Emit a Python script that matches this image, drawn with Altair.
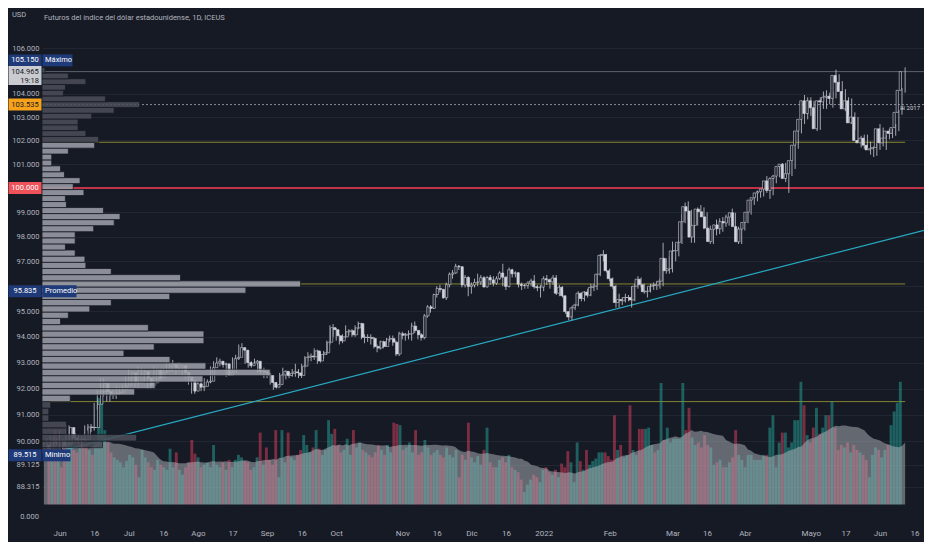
import json
import altair as alt
import numpy as np
import pandas as pd

BG = "#161a25"
TXT = "#b2b5be"
FONT = "Roboto, DejaVu Sans, sans-serif"
W, H = 882, 514
LEFT, BOTTOM = 34, 20

# ---------------- data (daily bars, ICE DX futures, from 2021-05-25) ----------------
first_open = 89.85
close = [
    89.66, 90.03, 89.98, 90.03,
    90.02, 89.83, 89.92, 90.52, 90.12,
    90.04, 90.08, 90.06, 90.05, 90.54,
    90.52, 90.52, 91.40, 91.88, 92.20,
    91.88, 91.75, 91.80, 91.82, 91.84,
    91.95, 92.10, 92.42, 92.60, 92.22,
    92.22, 92.55, 92.65, 92.40, 92.12,
    92.22, 92.72, 92.40, 92.62, 92.68,
    92.85, 92.92, 92.78, 92.78, 92.88,
    92.62, 92.45, 92.30, 91.90, 92.18,
    92.05, 92.08, 92.25, 92.28, 92.80,
    92.98, 93.05, 92.92, 92.95, 92.50,
    92.62, 93.15, 93.20, 93.58, 93.48,
    93.00, 92.88, 92.98, 93.05, 92.65,
    92.66, 92.60, 92.50, 92.23, 92.05,
    92.15, 92.52, 92.66, 92.50, 92.58,
    92.64, 92.60, 92.50, 92.86, 93.20,
    93.25, 93.22, 93.45, 93.06, 93.31,
    93.38, 93.79, 94.36, 94.28, 94.04,
    93.84, 94.00, 94.20, 94.24, 94.08,
    94.35, 94.52, 93.98, 93.98, 93.97,
    93.94, 93.62, 93.56, 93.81, 93.62,
    93.91, 93.93, 93.79, 93.33, 94.12,
    94.06, 94.10, 94.12, 94.42, 94.25,
    94.08, 93.97, 94.82, 95.18, 95.12,
    95.67, 95.91, 95.87, 95.54, 96.06,
    96.48, 96.53, 96.80, 96.78, 96.05,
    96.35, 95.99, 96.05, 96.15, 96.17,
    96.34, 95.97, 96.35, 96.25, 96.12,
    96.30, 96.53, 96.36, 95.99, 96.66,
    96.50, 96.54, 96.08, 96.03, 96.03,
    96.12, 96.21, 95.98, 95.94, 95.96,
    96.30, 96.26, 96.17, 96.33, 95.72,
    95.96, 95.62, 94.99, 94.78, 95.14,
    95.25, 95.72, 95.51, 95.77, 95.64,
    95.95, 96.00, 96.48, 97.24, 97.27,
    96.62, 96.30, 96.00, 95.35, 95.47,
    95.42, 95.55, 95.55, 95.45, 96.00,
    96.28, 96.06, 95.78, 95.80, 96.00,
    96.05, 96.04, 96.20, 97.12, 96.62,
    96.70, 97.42, 97.43, 97.77, 98.61,
    99.23, 99.05, 97.98, 98.46, 99.13,
    99.02, 98.81, 98.35, 97.80, 98.30,
    98.48, 98.32, 98.62, 98.56, 98.80,
    98.98, 98.41, 97.79, 98.31, 98.58,
    99.00, 99.50, 99.60, 99.80, 99.85,
    99.96, 100.30, 99.90, 100.40, 100.50,
    100.90, 101.00, 100.40, 100.60, 101.15,
    101.80, 102.40, 102.90, 103.70, 103.15,
    103.70, 103.40, 102.50, 103.70, 103.65,
    103.85, 103.90, 103.80, 104.80, 104.50,
    104.10, 103.35, 103.70, 102.75, 103.00,
    102.00, 101.90, 102.10, 101.80, 101.60,
    101.65, 101.70, 102.50, 101.90, 102.10,
    102.40, 102.30, 102.55, 103.20, 104.15,
    104.965,
]
high = [
    90.00, 90.10, 90.20, 90.15,
    90.10, 90.40, 90.08, 90.62, 90.60,
    90.20, 90.30, 90.25, 90.20, 90.60,
    90.65, 90.65, 91.45, 91.95, 92.40,
    92.40, 92.05, 91.95, 91.95, 92.10,
    92.05, 92.15, 92.50, 92.75, 92.65,
    92.30, 92.85, 92.80, 92.70, 92.45,
    92.40, 92.85, 92.75, 92.70, 92.80,
    93.00, 93.20, 93.10, 92.95, 93.00,
    92.90, 92.75, 92.50, 92.35, 92.25,
    92.25, 92.30, 92.40, 92.35, 92.85,
    93.05, 93.20, 93.15, 93.05, 93.00,
    92.70, 93.20, 93.30, 93.70, 93.75,
    93.50, 93.05, 93.05, 93.15, 93.10,
    92.75, 92.80, 92.65, 92.55, 92.25,
    92.25, 92.60, 92.80, 92.70, 92.65,
    92.75, 92.95, 92.75, 92.95, 93.25,
    93.40, 93.35, 93.55, 93.50, 93.40,
    93.45, 93.85, 94.45, 94.50, 94.35,
    94.10, 94.10, 94.45, 94.30, 94.30,
    94.45, 94.60, 94.55, 94.10, 94.10,
    94.10, 94.00, 93.70, 93.85, 93.85,
    93.95, 94.05, 94.05, 93.85, 94.20,
    94.20, 94.15, 94.25, 94.55, 94.60,
    94.25, 94.15, 94.90, 95.25, 95.25,
    95.70, 96.00, 96.05, 95.90, 96.15,
    96.55, 96.65, 96.90, 96.85, 96.80,
    96.45, 96.40, 96.15, 96.30, 96.50,
    96.45, 96.40, 96.40, 96.45, 96.40,
    96.40, 96.60, 96.90, 96.40, 96.75,
    96.70, 96.60, 96.55, 96.15, 96.10,
    96.20, 96.30, 96.45, 96.05, 96.05,
    96.40, 96.45, 96.30, 96.45, 96.45,
    96.05, 96.00, 95.60, 95.00, 95.20,
    95.30, 95.80, 95.75, 95.80, 95.90,
    96.10, 96.10, 96.50, 97.30, 97.45,
    97.30, 96.70, 96.35, 96.05, 95.70,
    95.55, 95.70, 95.65, 96.00, 96.10,
    96.40, 96.35, 96.10, 95.95, 96.10,
    96.15, 96.20, 96.30, 97.75, 97.10,
    97.20, 97.80, 97.70, 97.85, 98.90,
    99.40, 99.45, 99.10, 98.60, 99.20,
    99.30, 99.20, 99.00, 98.45, 98.40,
    98.70, 98.75, 98.80, 98.90, 98.95,
    99.15, 98.95, 98.40, 98.40, 98.70,
    99.10, 99.55, 99.75, 99.90, 99.95,
    100.15, 100.50, 100.45, 100.55, 100.60,
    101.00, 101.05, 101.05, 100.70, 101.20,
    101.90, 102.45, 103.10, 103.95, 103.85,
    103.85, 103.70, 103.55, 103.85, 104.10,
    104.15, 104.05, 104.10, 105.05, 104.85,
    104.55, 104.20, 103.85, 103.80, 103.20,
    103.00, 102.20, 102.25, 102.25, 101.95,
    101.75, 101.85, 102.70, 102.55, 102.25,
    102.50, 102.50, 102.70, 103.30, 104.25,
    105.15,
]
low = [
    89.55, 89.515, 89.80, 89.85,
    89.85, 89.66, 89.70, 89.88, 90.00,
    89.90, 89.95, 89.90, 89.75, 90.00,
    90.40, 90.35, 90.40, 91.20, 91.70,
    91.70, 91.50, 91.50, 91.60, 91.60,
    91.75, 91.85, 92.00, 92.35, 92.10,
    92.05, 92.05, 92.40, 92.25, 92.00,
    92.00, 92.15, 92.25, 92.30, 92.45,
    92.60, 92.70, 92.65, 92.55, 92.65,
    92.50, 92.35, 92.15, 91.80, 91.80,
    91.95, 91.90, 91.90, 92.10, 92.20,
    92.75, 92.85, 92.85, 92.80, 92.45,
    92.50, 92.55, 93.00, 93.10, 93.40,
    92.95, 92.80, 92.80, 92.90, 92.60,
    92.55, 92.40, 92.40, 92.15, 91.95,
    92.00, 92.05, 92.45, 92.35, 92.40,
    92.45, 92.45, 92.40, 92.40, 92.80,
    93.05, 93.05, 93.10, 92.95, 93.00,
    93.15, 93.30, 93.70, 94.00, 93.85,
    93.70, 93.75, 93.95, 94.05, 94.00,
    94.00, 94.30, 93.90, 93.75, 93.80,
    93.70, 93.55, 93.40, 93.50, 93.55,
    93.65, 93.80, 93.65, 93.25, 93.25,
    93.90, 93.85, 93.90, 93.85, 94.15,
    93.90, 93.85, 93.90, 94.75, 94.95,
    95.10, 95.55, 95.75, 95.50, 95.45,
    95.95, 96.30, 96.50, 96.65, 95.95,
    95.95, 95.60, 95.70, 95.95, 96.00,
    96.05, 95.95, 95.95, 96.05, 96.00,
    96.05, 96.25, 96.00, 95.85, 95.95,
    96.35, 96.35, 95.95, 95.85, 95.90,
    95.90, 96.00, 95.90, 95.80, 95.55,
    95.80, 96.05, 95.90, 96.05, 95.65,
    95.60, 95.55, 94.90, 94.65, 94.65,
    95.05, 95.20, 95.40, 95.40, 95.55,
    95.60, 95.80, 95.85, 96.40, 97.00,
    96.55, 96.20, 95.90, 95.15, 95.15,
    95.25, 95.35, 95.40, 95.15, 95.40,
    95.90, 95.95, 95.70, 95.55, 95.75,
    95.85, 95.85, 95.90, 96.00, 96.50,
    96.50, 96.55, 97.00, 97.20, 97.70,
    98.55, 98.70, 97.75, 97.75, 98.45,
    98.80, 98.30, 98.10, 97.70, 97.70,
    98.05, 98.10, 98.20, 98.40, 98.45,
    98.65, 97.80, 97.70, 97.70, 98.25,
    98.55, 98.90, 99.30, 99.45, 99.60,
    99.65, 99.80, 99.55, 99.70, 100.20,
    100.45, 100.65, 100.25, 99.80, 100.50,
    100.80, 101.65, 102.30, 102.70, 102.90,
    103.05, 103.15, 102.40, 102.45, 103.35,
    103.35, 103.55, 103.40, 103.80, 104.40,
    104.00, 103.25, 103.10, 102.70, 102.45,
    101.95, 101.70, 101.65, 101.70, 101.40,
    101.30, 101.35, 101.60, 101.75, 101.60,
    102.05, 102.10, 102.20, 102.40, 103.10,
    104.05,
]
volume = [
    45, 40, 60, 38,
    30, 48, 52, 55, 44,
    42, 46, 50, 47, 44,
    40, 52, 86, 84, 60,
    50, 42, 38, 36, 34,
    30, 35, 40, 38, 32,
    22, 44, 38, 34, 30,
    28, 36, 32, 30, 28,
    45, 30, 42, 28, 24,
    30, 34, 52, 41, 38,
    30, 32, 34, 30, 48,
    32, 30, 34, 28, 36,
    30, 36, 40, 38, 35,
    34, 28, 30, 38, 58,
    32, 46, 36, 32, 60,
    22, 60, 34, 58, 38,
    36, 40, 44, 56, 48,
    42, 46, 60, 45, 40,
    44, 68, 57, 61, 48,
    42, 44, 53, 40, 60,
    46, 50, 44, 42, 40,
    38, 42, 48, 44, 40,
    48, 42, 66, 65, 64,
    44, 46, 50, 42, 60,
    40, 42, 52, 46, 40,
    42, 44, 40, 38, 46,
    40, 38, 44, 22, 40,
    36, 66, 38, 34, 39,
    32, 44, 62, 34, 30,
    30, 36, 38, 34, 40,
    30, 28, 26, 20, 10,
    16, 20, 24, 22, 18,
    28, 30, 26, 24, 28,
    22, 33, 30, 43, 34,
    18, 50, 35, 28, 44,
    32, 35, 37, 42, 42,
    42, 39, 36, 72, 44,
    48, 38, 40, 80, 44,
    40, 61, 61, 61, 62,
    48, 42, 44, 98, 52,
    62, 50, 53, 53, 53,
    98, 60, 78, 54, 48,
    50, 46, 56, 48, 46,
    32, 34, 36, 30, 30,
    34, 38, 60, 40, 36,
    30, 40, 40, 36, 36,
    36, 40, 40, 62, 72,
    30, 50, 58, 58, 46,
    50, 68, 68, 99, 80,
    56, 50, 62, 78, 57,
    62, 72, 72, 83, 62,
    44, 48, 46, 50, 42,
    48, 44, 42, 40, 36,
    22, 40, 46, 44, 38,
    44, 48, 64, 75, 82,
    99,
]

# visible-range volume profile: 63 rows between the low and the high (bottom -> top)
profile_low, profile_high, profile_rows = 89.515, 105.15, 63
profile_vol = [
    20, 62, 97, 25, 25, 7, 7, 9, 29, 95,
    116, 165, 234, 168, 131, 84, 115, 166, 166, 109,
    19, 27, 49, 71, 131, 209, 265, 142, 71, 45,
    44, 34, 24, 34, 34, 53, 74, 80, 63, 25,
    24, 43, 32, 39, 23, 19, 10, 10, 27, 54,
    58, 45, 37, 37, 51, 74, 100, 65, 22, 24,
    45, 27, 3,
]
value_area_rows = (8, 49)

tick_dates = ["2021-06-01", "2021-06-16", "2021-07-01", "2021-07-16", "2021-08-02", "2021-08-17",
              "2021-09-01", "2021-09-16", "2021-10-01", "2021-11-01", "2021-11-16", "2021-12-01",
              "2021-12-16", "2022-01-03", "2022-02-01", "2022-03-01", "2022-03-16", "2022-04-01",
              "2022-05-02", "2022-05-17", "2022-06-01", "2022-06-16"]
tick_labels = ["Jun", "16", "Jul", "16", "Ago", "17", "Sep", "16", "Oct", "Nov", "16", "Dic",
               "16", "2022", "Feb", "Mar", "16", "Abr", "Mayo", "17", "Jun", "16"]
price_ticks = [106, 105, 104, 103, 102, 101, 100, 99, 98, 97, 96, 95, 94, 93, 92, 91, 90, 89.125, 88.315]
hidden_ticks = [105, 100, 96]

# horizontal levels
level_price = [104.965, 103.535, 101.925, 100.0, 96.09, 91.50]
level_kind = ["last", "prev", "va", "round", "va", "va"]

# trend line anchors (bar index, price)
trend_i = [6.5, 280.0]
trend_p = [89.67, 98.26]

# price tags on the scale
tag_price = [105.15, 104.965, 103.535, 100.0, 95.835, 89.515]
tag_text = ["105.150", "104.965", "103.535", "100.000", "95.835", "89.515"]
tag_fill = ["#1f3a78", "#c9cbd1", "#f7a21b", "#f0525a", "#1f3a78", "#1f3a78"]
tag_color = ["#ffffff", "#131722", "#131722", "#ffffff", "#ffffff", "#ffffff"]
tag_dy = [-7, 4, 0, 0, 1, 1]
tag_h = [12, 19, 12, 12, 12, 12]
name_text = ["Máximo", "Promedio", "Mínimo"]
name_price = [105.15, 95.835, 89.515]
name_dy = [-7, 1, 1]
name_w = [30, 34, 28]

# ---------------- frames ----------------
n = len(close)
df = pd.DataFrame({
    "i": np.arange(n),
    "open": [first_open] + close[:-1],
    "high": high, "low": low, "close": close, "vol": volume,
})
df["high"] = df[["high", "open", "close"]].max(axis=1)
df["low"] = df[["low", "open", "close"]].min(axis=1)

tick_idx = [int(np.busday_count("2021-05-25", d)) for d in tick_dates]

rs = (profile_high - profile_low) / profile_rows
prof = pd.DataFrame({"k": np.arange(profile_rows), "v": profile_vol})
prof["lo"] = profile_low + prof["k"] * rs
prof["hi"] = prof["lo"] + rs
prof["va"] = (prof["k"] >= value_area_rows[0]) & (prof["k"] <= value_area_rows[1])

X_DOM = [-0.6, 280.0]
xs = alt.Scale(domain=X_DOM, nice=False, zero=False)
ys = alt.Scale(type="log", domain=[87.03, 107.78], nice=False)
vs = alt.Scale(domain=[-14.2, 400.8], nice=False, zero=False)

lv = pd.DataFrame({"p": level_price, "kind": level_kind})
lv["x0"] = X_DOM[0]
lv["x1"] = [X_DOM[1], X_DOM[1], n - 1, X_DOM[1], n - 1, n - 1]

base = alt.Chart(df)

label_expr_x = f"{json.dumps(tick_labels)}[indexof({json.dumps(tick_idx)}, datum.value)]"
label_expr_y = f"indexof({json.dumps(hidden_ticks)}, datum.value) >= 0 ? '' : format(datum.value, '.3f')"
axes = base.mark_point(opacity=0).encode(
    x=alt.X("i:Q", scale=xs, axis=alt.Axis(values=tick_idx, labelExpr=label_expr_x, grid=False,
                                           labelPadding=7, labelOverlap=False, title=None,
                                           labelFontSize=8)),
    y=alt.Y("close:Q", scale=ys, axis=alt.Axis(values=price_ticks, labelExpr=label_expr_y, grid=True,
                                               gridColor="#222632", labelPadding=3,
                                               labelOverlap=False, title=None, labelFontSize=7.5)),
)

def level_layer(kind, color, width, dash=None):
    kw = dict(color=color, strokeWidth=width)
    if dash:
        kw["strokeDash"] = dash
    return alt.Chart(lv).transform_filter(f"datum.kind == '{kind}'").mark_rule(**kw).encode(
        x=alt.X("x0:Q", scale=xs, axis=None), x2="x1:Q",
        y=alt.Y("p:Q", scale=ys, axis=None))

lines = [
    level_layer("last", "#5d606b", 1),
    level_layer("prev", "#8a8d96", 1, [2, 2]),
    level_layer("va", "#85852f", 1),
    level_layer("round", "#c0344a", 2),
]

trend = alt.Chart(pd.DataFrame({"i0": [trend_i[0]], "i1": [trend_i[1]],
                                "p0": [trend_p[0]], "p1": [trend_p[1]]})).mark_rule(
    color="#27a9c1", strokeWidth=1.2).encode(
    x=alt.X("i0:Q", scale=xs, axis=None), x2="i1:Q",
    y=alt.Y("p0:Q", scale=ys, axis=None), y2="p1:Q")

vol_bars = base.mark_bar(size=2.9).encode(
    x=alt.X("i:Q", scale=xs, axis=None),
    y=alt.Y("vol:Q", scale=vs, axis=None), y2=alt.datum(0),
    color=alt.condition("datum.close >= datum.open", alt.value("#26a69a"), alt.value("#e0405f")),
    opacity=alt.value(0.5),
)
vol_ma = base.transform_window(ma="mean(vol)", frame=[-19, 0], sort=[{"field": "i"}]).mark_area(
    color="#b2b5be", opacity=0.5).encode(
    x=alt.X("i:Q", scale=xs, axis=None),
    y=alt.Y("ma:Q", scale=vs, axis=None), y2=alt.datum(0))

wicks = base.mark_rule(color="#c9ccd3", strokeWidth=0.8).encode(
    x=alt.X("i:Q", scale=xs, axis=None),
    y=alt.Y("low:Q", scale=ys, axis=None), y2="high:Q")
bodies = base.mark_bar(size=2.3, stroke="#d1d4dc", strokeWidth=0.6).encode(
    x=alt.X("i:Q", scale=xs, axis=None),
    y=alt.Y("open:Q", scale=ys, axis=None), y2="close:Q",
    fill=alt.condition("datum.close >= datum.open", alt.value(BG), alt.value("#d1d4dc")),
)

profile = alt.Chart(prof).mark_bar(stroke=BG, strokeWidth=0.8).encode(
    x=alt.X("v:Q", scale=alt.Scale(domain=[0, 904], nice=False, zero=True), axis=None),
    x2=alt.datum(0),
    y=alt.Y("lo:Q", scale=ys, axis=None), y2="hi:Q",
    color=alt.condition("datum.va", alt.value("#9c9fa8"), alt.value("#4b4e59")),
    opacity=alt.value(0.88),
)

TAG_W = 33
tags = []
for p, t, f, c, dy, h in zip(tag_price, tag_text, tag_fill, tag_color, tag_dy, tag_h):
    d = pd.DataFrame({"p": [p], "t": [t]})
    tags.append(alt.Chart(d).mark_tick(orient="horizontal", thickness=h, size=TAG_W, color=f,
                                        opacity=1, yOffset=dy).encode(
        x=alt.value(-TAG_W / 2 - 0.5), y=alt.Y("p:Q", scale=ys, axis=None)))
    tdy = dy - 4 if h > 12 else dy
    tags.append(alt.Chart(d).mark_text(align="center", baseline="middle", color=c, fontSize=7.5,
                                        font=FONT, dy=tdy).encode(
        x=alt.value(-TAG_W / 2 - 0.5), y=alt.Y("p:Q", scale=ys, axis=None), text="t:N"))
    if h > 12:
        tags.append(alt.Chart(pd.DataFrame({"p": [p], "t": ["19:18"]})).mark_text(
            align="right", baseline="middle", color=c, fontSize=7.5, font=FONT, dy=dy + 5).encode(
            x=alt.value(-3), y=alt.Y("p:Q", scale=ys, axis=None), text="t:N"))
for p, t, dy, w in zip(name_price, name_text, name_dy, name_w):
    d = pd.DataFrame({"p": [p], "t": [t]})
    tags.append(alt.Chart(d).mark_tick(orient="horizontal", thickness=12, size=w, color="#1f3a78",
                                        opacity=1, yOffset=dy).encode(
        x=alt.value(w / 2 + 0.5), y=alt.Y("p:Q", scale=ys, axis=None)))
    tags.append(alt.Chart(d).mark_text(align="left", baseline="middle", color="#ffffff", fontSize=7.5,
                                        font=FONT, dy=dy).encode(
        x=alt.value(3), y=alt.Y("p:Q", scale=ys, axis=None), text="t:N"))

title = alt.Chart(pd.DataFrame({"t": ["Futuros del índice del dólar estadounidense, 1D, ICEUS"]})).mark_text(
    align="left", baseline="middle", color=TXT, fontSize=7.5, font=FONT).encode(
    x=alt.value(2), y=alt.value(10), text="t:N")
usd = alt.Chart(pd.DataFrame({"t": ["USD"]})).mark_text(
    align="left", baseline="middle", color=TXT, fontSize=7.5, font=FONT).encode(
    x=alt.value(-30), y=alt.value(7), text="t:N")
zero_lbl = alt.Chart(pd.DataFrame({"t": ["0.000"]})).mark_text(
    align="right", baseline="middle", color=TXT, fontSize=7.5, font=FONT).encode(
    x=alt.value(-3), y=alt.value(H - 5), text="t:N")
yr = alt.Chart(pd.DataFrame({"p": [103.38], "t": ["⊞ 2017"]})).mark_text(
    align="left", baseline="middle", color="#d1d4dc", fontSize=6, font=FONT).encode(
    x=alt.value(W - 24), y=alt.Y("p:Q", scale=ys, axis=None), text="t:N")

chart = alt.layer(
    axes, *lines, trend, vol_bars, vol_ma, wicks, bodies, profile, *tags, title, usd, zero_lbl, yr
).resolve_scale(x="independent", y="independent").properties(
    width=W, height=H,
    padding={"left": LEFT, "top": 0, "right": 0, "bottom": BOTTOM},
    autosize=alt.AutoSizeParams(type="none"),
).configure(background=BG).configure_view(stroke=None).configure_axis(
    labelFont=FONT, labelColor=TXT, domain=False, ticks=False,
)

chart.save("out.html", embed_options={"renderer": "svg", "actions": False})
